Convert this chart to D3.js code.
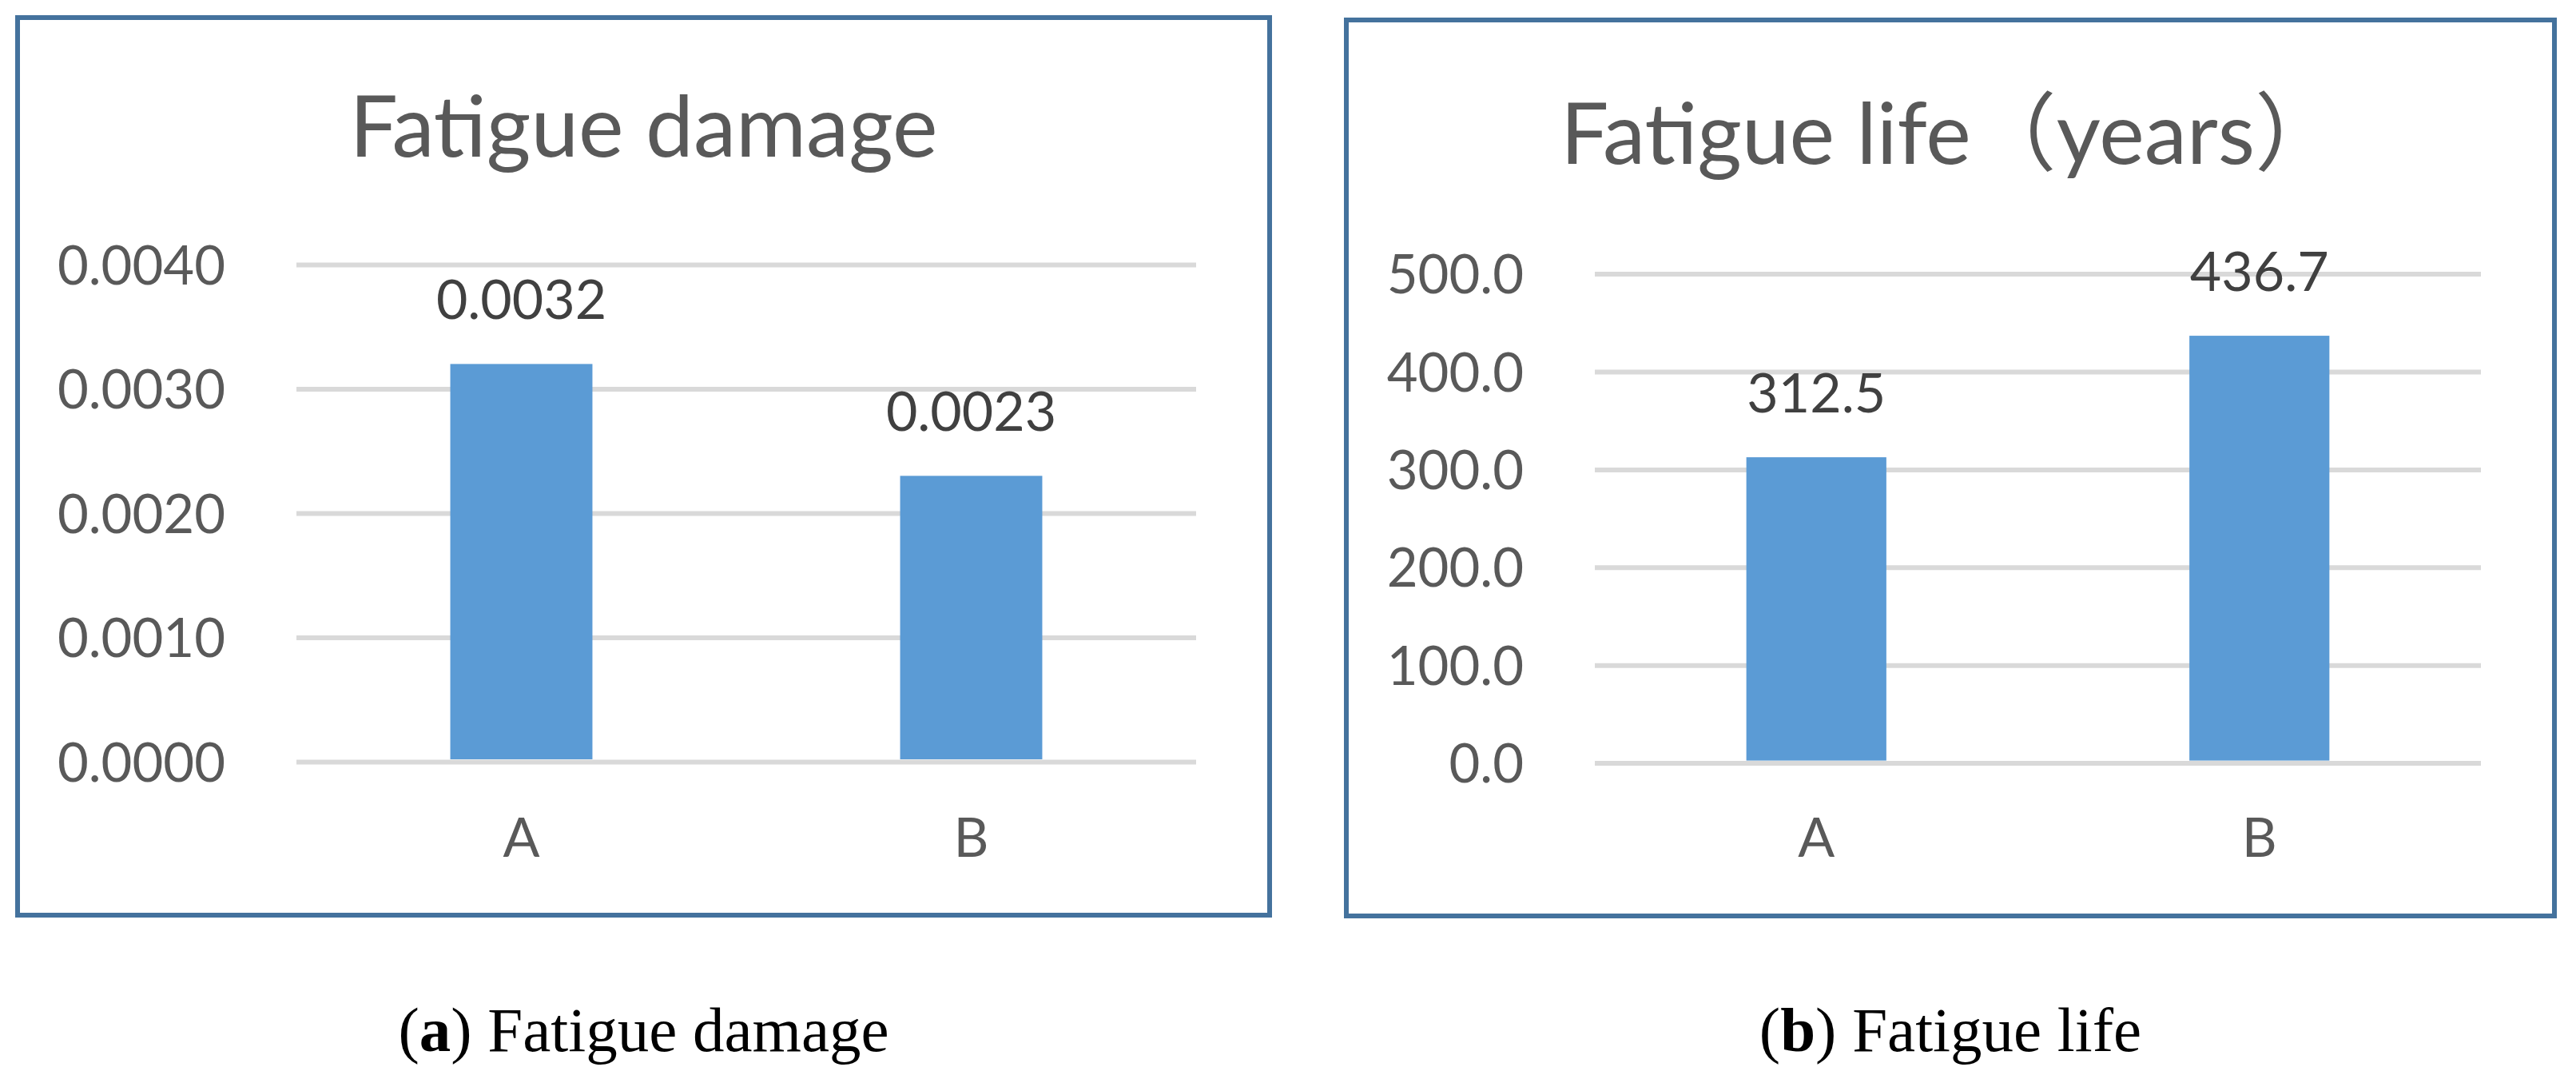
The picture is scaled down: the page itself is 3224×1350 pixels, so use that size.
<!DOCTYPE html>
<html>
<head>
<meta charset="utf-8">
<script src="https://cdn.jsdelivr.net/npm/d3@7"></script>
<style>
  html, body { margin: 0; padding: 0; background: #ffffff; }
  svg { display: block; }
</style>
</head>
<body>
<svg id="chart" width="3224" height="1350"></svg>
<script>
// ---- data ----
const categories = ["A", "B"];
const damageValues = [0.0032, 0.0023];
const lifeValues = [312.5, 436.7];
const damageTicks = [0, 0.001, 0.002, 0.003, 0.004];
const lifeTicks = [0, 100, 200, 300, 400, 500];
const damageTitle = "Fatigue damage";
const lifeTitle = "Fatigue life（years）";
const captionLetters = ["a", "b"];
const captionTexts = [" Fatigue damage", " Fatigue life"];

// ---- layout ----
const panels = [
  { values: damageValues, ticks: damageTicks, fmt: d3.format(".4f"), title: damageTitle,
    box: [22, 22, 1589, 1145], plotX: [371, 1497], plotY: [953, 331], titleY: 196,
    caption: 0 },
  { values: lifeValues, ticks: lifeTicks, fmt: d3.format(".1f"), title: lifeTitle,
    box: [1685, 25, 3197, 1146], plotX: [1996, 3105], plotY: [954.6, 342.6], titleY: 205,
    caption: 1 }
];

const svg = d3.select("#chart");
const uiFont = "Lato, 'Noto Sans', 'Noto Sans CJK SC', sans-serif";
const barColor = "#5B9BD5";
const gridColor = "#D9D9D9";
const textColor = "#595959";
const labelColor = "#404040";
const borderColor = "#44729D";
const barFrac = 0.316;

panels.forEach(p => {
  const [bx0, by0, bx1, by1] = p.box;
  const g = svg.append("g");

  // frame
  g.append("rect")
    .attr("x", bx0).attr("y", by0)
    .attr("width", bx1 - bx0).attr("height", by1 - by0)
    .attr("fill", "#ffffff")
    .attr("stroke", borderColor).attr("stroke-width", 6);

  const x = d3.scaleBand().domain(categories).range(p.plotX).padding(0);
  const yMax = p.ticks[p.ticks.length - 1];
  const y = d3.scaleLinear().domain([0, yMax]).range(p.plotY);
  const plotW = p.plotX[1] - p.plotX[0];

  // y axis with gridlines
  const yAxis = d3.axisLeft(y)
    .tickValues(p.ticks)
    .tickFormat(p.fmt)
    .tickSize(-plotW)
    .tickPadding(89);
  const ya = g.append("g")
    .attr("transform", `translate(${p.plotX[0]},0)`)
    .call(yAxis);
  ya.select(".domain").remove();
  ya.selectAll(".tick line").attr("stroke", gridColor).attr("stroke-width", 6);
  ya.selectAll(".tick text")
    .attr("x", -89)
    .attr("dy", "0.36em")
    .attr("fill", textColor)
    .style("font-family", uiFont)
    .style("font-size", "67px");

  // bars
  const bw = x.bandwidth() * barFrac;
  g.selectAll("rect.bar")
    .data(p.values)
    .join("rect")
    .attr("class", "bar")
    .attr("x", (d, i) => x(categories[i]) + (x.bandwidth() - bw) / 2)
    .attr("y", d => y(d))
    .attr("width", bw)
    .attr("height", d => y(0) - 3 - y(d))
    .attr("fill", barColor);

  // data labels
  g.selectAll("text.val")
    .data(p.values)
    .join("text")
    .attr("class", "val")
    .attr("x", (d, i) => x(categories[i]) + x.bandwidth() / 2)
    .attr("y", d => y(d) - 56)
    .attr("text-anchor", "middle")
    .attr("fill", labelColor)
    .style("font-family", uiFont)
    .style("font-size", "68px")
    .text(d => p.fmt(d));

  // x axis
  const xAxis = d3.axisBottom(x).tickSize(0).tickPadding(0);
  const xa = g.append("g")
    .attr("transform", `translate(0,${p.plotY[0]})`)
    .call(xAxis);
  xa.select(".domain").remove();
  xa.selectAll(".tick text")
    .attr("y", 1072 - p.plotY[0])
    .attr("dy", 0)
    .attr("fill", textColor)
    .style("font-family", uiFont)
    .style("font-size", "68px");

  // title
  const cx = (bx0 + bx1) / 2;
  g.append("text")
    .attr("x", cx)
    .attr("y", p.titleY)
    .attr("text-anchor", "middle")
    .attr("fill", textColor)
    .style("font-family", uiFont)
    .style("font-size", "107px")
    .text(p.title);

  // caption
  const cap = svg.append("text")
    .attr("x", cx)
    .attr("y", 1315)
    .attr("text-anchor", "middle")
    .attr("fill", "#000000")
    .style("font-family", "'Liberation Serif', 'DejaVu Serif', serif")
    .style("font-size", "79px");
  cap.append("tspan").text("(");
  cap.append("tspan").style("font-weight", "bold").text(captionLetters[p.caption]);
  cap.append("tspan").text(")" + captionTexts[p.caption]);
});
</script>
</body>
</html>
